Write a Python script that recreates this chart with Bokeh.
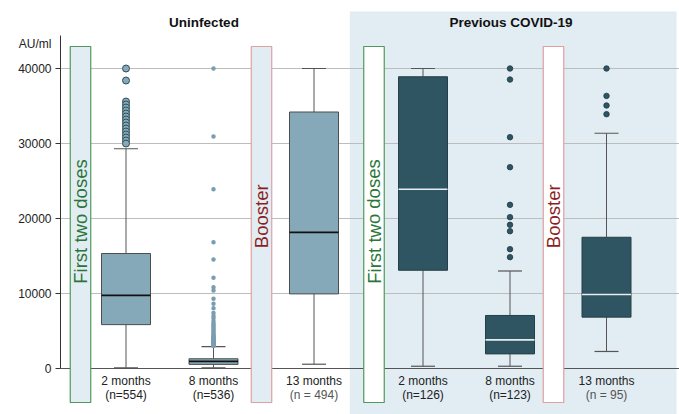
from bokeh.plotting import figure
from bokeh.models import Range1d, FixedTicker, LinearAxis
from bokeh.core.properties import value
from bokeh.embed import file_html
from bokeh.resources import INLINE

# ---------------- data ----------------
groups = ["Uninfected", "Previous COVID-19"]
months = ["2 months", "8 months", "13 months", "2 months", "8 months", "13 months"]
counts = ["(n=554)", "(n=536)", "(n = 494)", "(n=126)", "(n=123)", "(n = 95)"]

q1 = [5850, 550, 9950, 13100, 1950, 6850]
median = [9750, 950, 18150, 23900, 3820, 9870]
q3 = [15330, 1300, 34200, 38900, 7070, 17500]
whisk_lo = [100, 100, 570, 300, 300, 2270]
whisk_hi = [29300, 2930, 40000, 40000, 13000, 31370]

out_u2 = [40000, 38400, 35600, 35200, 34800, 34400, 34000, 33600, 33200, 32800,
          32400, 32000, 31600, 31200, 30800, 30400, 30000]
out_u8 = [40000, 30930, 23900, 16840, 14530, 12090, 10840, 10400, 9290, 8620, 8040,
          7400, 7000, 6700, 6300, 6000, 5800, 5600, 5400, 5200, 5000, 4800, 4600,
          4450, 4300, 4200, 4100, 4000, 3900, 3800, 3700, 3600, 3550, 3500, 3400,
          3350, 3300, 3200, 3150, 3100, 3050, 3000]
out_p8 = [40000, 38530, 30840, 26840, 21820, 20180, 19160, 18310, 15910, 14850]
out_p13 = [40000, 36350, 35070, 33910]

dose_labels = ["First two doses", "Booster", "First two doses", "Booster"]
y_ticks = [0, 10000, 20000, 30000, 40000]
unit_label = "AU/ml"
unit_label_y = 43290

# ---------------- layout (px units from frame left) ----------------
box_x = [65.5, 153, 253.5, 362.5, 449.5, 546]
box_w = 49
cap_w = 24
rect_x = [20, 201, 313.5, 493]
rect_w = 20.5
title_x = [143.5, 450.5]

p = figure(width=679, height=414, output_backend="svg", toolbar_location=None,
           x_range=Range1d(0, 619), y_range=Range1d(-6133.3, 49066.7),
           min_border_left=60, min_border_right=0, min_border_top=0, min_border_bottom=0)
p.outline_line_color = None
p.background_fill_color = "white"
p.border_fill_color = "white"

# panel
p.quad(left=[289.3], right=[616], bottom=[-8000], top=[47600],
       fill_color="#e2ecf3", line_color=None, level="image")

# axes
p.xaxis.visible = False
p.xgrid.visible = False
yax = p.yaxis[0]
yax.ticker = FixedTicker(ticks=y_ticks)
yax.bounds = (0, 44400)
yax.axis_line_color = "#333333"
yax.major_tick_out = 5
yax.major_tick_in = 0
yax.major_tick_line_color = "#333333"
yax.minor_tick_line_color = None
yax.major_label_overrides = {t: "" for t in y_ticks}
yax.major_label_standoff = 0
yax.major_label_text_font_size = "1px"

lab_ax = LinearAxis(ticker=FixedTicker(ticks=y_ticks + [unit_label_y]),
                    major_label_overrides={unit_label_y: unit_label})
lab_ax.axis_line_color = None
lab_ax.major_tick_line_color = None
lab_ax.minor_tick_line_color = None
lab_ax.major_tick_out = 0
lab_ax.major_tick_in = 0
lab_ax.major_label_text_font = "Liberation Sans"
lab_ax.major_label_text_font_size = "12px"
lab_ax.major_label_text_color = "#222222"
lab_ax.major_label_standoff = 4
p.add_layout(lab_ax, "left")

p.ygrid.ticker = FixedTicker(ticks=[10000, 20000, 30000, 40000])
p.ygrid.grid_line_color = "#bdbdbd"
p.ygrid.grid_line_width = 1

# baseline at 0
p.segment(x0=[0], x1=[619], y0=[y_ticks[0]], y1=[y_ticks[0]], line_color="#555555",
          line_width=1)

# dose rectangles
rect_fill = ["#e2ecf3", "#e2ecf3", "white", "white"]
rect_line = ["#4f9a5a", "#e0a0a0", "#4f9a5a", "#e0a0a0"]
rect_text_col = ["#2a7637", "#8b1e1e", "#2a7637", "#8b1e1e"]
rect_text_y = [19600, 20300, 19600, 20300]
p.quad(left=[x - rect_w / 2 for x in rect_x], right=[x + rect_w / 2 for x in rect_x],
       bottom=[-4533] * 4, top=[42933] * 4,
       fill_color=rect_fill, line_color=rect_line, line_width=1.2)
p.text(x=rect_x, y=rect_text_y, text=dose_labels, angle=1.5708,
       text_align="center", text_baseline="middle", text_color=rect_text_col,
       text_font=value("Liberation Sans"), text_font_size="18.5px")

# boxes
box_fill = ["#86a9b9"] * 3 + ["#2e5561"] * 3
box_edge = ["#4d4d4d"] * 3 + ["#263f47"] * 3
med_col = ["#111111"] * 3 + ["#e6ecef"] * 3
wcol = "#555555"
lefts = [x - box_w / 2 for x in box_x]
rights = [x + box_w / 2 for x in box_x]
p.segment(x0=box_x, x1=box_x, y0=whisk_lo, y1=q1, line_color=wcol, line_width=1)
p.segment(x0=box_x, x1=box_x, y0=q3, y1=whisk_hi, line_color=wcol, line_width=1)
p.segment(x0=[x - cap_w / 2 for x in box_x], x1=[x + cap_w / 2 for x in box_x],
          y0=whisk_lo, y1=whisk_lo, line_color=wcol, line_width=1.2)
p.segment(x0=[x - cap_w / 2 for x in box_x], x1=[x + cap_w / 2 for x in box_x],
          y0=whisk_hi, y1=whisk_hi, line_color=wcol, line_width=1.2)
p.quad(left=lefts, right=rights, bottom=q1, top=q3, fill_color=box_fill,
       line_color=box_edge, line_width=1)
p.segment(x0=lefts, x1=rights, y0=median, y1=median, line_color=med_col, line_width=1.6)

# outliers
p.scatter(x=[box_x[0]] * len(out_u2), y=out_u2, size=7, fill_color="#86a9b9",
          line_color="#2f4f5a", line_width=1)
p.scatter(x=[box_x[1]] * len(out_u8), y=out_u8, size=4.5, fill_color="#7a9db0",
          line_color=None)
p.scatter(x=[box_x[4]] * len(out_p8), y=out_p8, size=5.5, fill_color="#2e5561",
          line_color="#1f3a42", line_width=0.8)
p.scatter(x=[box_x[5]] * len(out_p13), y=out_p13, size=5.5, fill_color="#2e5561",
          line_color="#1f3a42", line_width=0.8)

# category labels
cnt_col = ["#222222", "#222222", "#555555", "#222222", "#222222", "#555555"]
p.text(x=box_x, y=[-1733] * 6, text=months, text_align="center", text_baseline="middle",
       text_color="#222222", text_font=value("Liberation Sans"), text_font_size="12px")
p.text(x=box_x, y=[-3467] * 6, text=counts, text_align="center", text_baseline="middle",
       text_color=cnt_col, text_font=value("Liberation Sans"), text_font_size="12px")

# group titles
p.text(x=title_x, y=[46133] * 2, text=groups, text_align="center", text_baseline="middle",
       text_color="#111111", text_font=value("Liberation Sans"), text_font_size="13.5px",
       text_font_style="bold")

open("out.html", "w").write(file_html(p, INLINE))
